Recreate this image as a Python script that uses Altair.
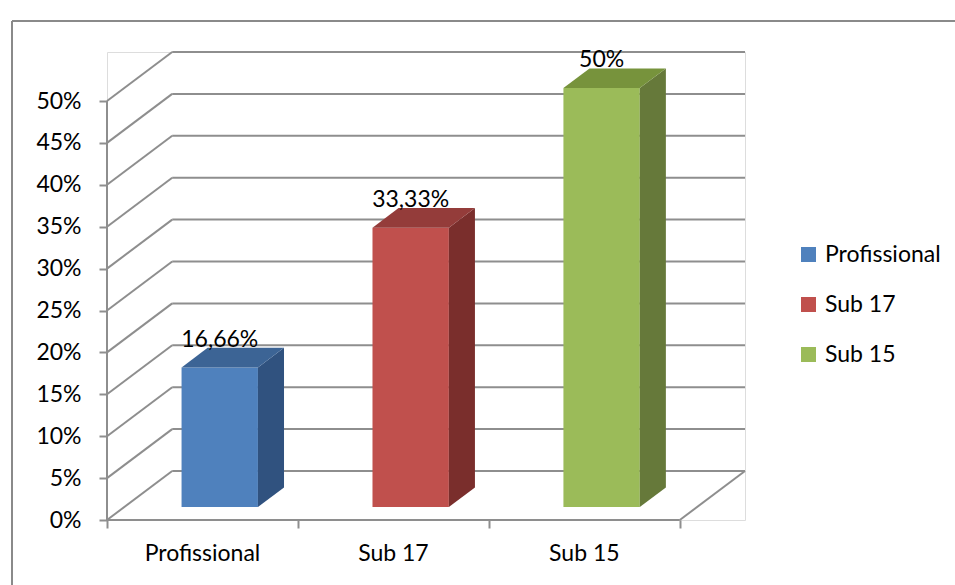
import altair as alt
import pandas as pd

# Chart data
categorias = ["Profissional", "Sub 17", "Sub 15"]
valores = [16.66, 33.33, 50.0]
rotulos = ["16,66%", "33,33%", "50%"]
ticks_y = [0, 5, 10, 15, 20, 25, 30, 35, 40, 45, 50]

cor_frente = ["#4F81BD", "#C0504D", "#9BBB59"]
cor_topo = ["#3C6495", "#943C3A", "#77933C"]
cor_lado = ["#30527F", "#7A2E2C", "#66793A"]

# Oblique projection of the depth axis (depth 0..1 -> offset in x slots / y percent)
DX = 0.3415
DY = 5.85
HALF = 0.2          # half bar width, in category slots
D0, D1 = 0.265, 0.665  # bar depth span
N = len(categorias)

FONT = "Lato"
FS = 23
GRID = "#8E8E8E"

W, H = 638, 468


def X(field):
    return alt.X(field, type="quantitative",
                 scale=alt.Scale(domain=[0, N + DX], nice=False, zero=False),
                 axis=alt.Axis(values=list(range(N + 1)), labels=False, title=None,
                               domain=False, grid=False, tickSize=8, tickWidth=2,
                               tickColor=GRID))


def Y(field):
    return alt.Y(field, type="quantitative",
                 scale=alt.Scale(domain=[0, 50 + DY], nice=False, zero=False),
                 axis=alt.Axis(values=ticks_y, title=None, domain=False, grid=False,
                               tickSize=8, tickWidth=2, tickColor=GRID,
                               labelExpr="datum.value + '%'", labelFont=FONT,
                               labelFontSize=FS, labelColor="#000000",
                               labelPadding=18))


# Walls and floor lines
linhas = []
for v in ticks_y:
    linhas.append(dict(x=DX, y=v + DY, x2=N + DX, y2=v + DY))   # back wall
    linhas.append(dict(x=0, y=v, x2=DX, y2=v + DY))             # side wall
linhas.append(dict(x=0, y=0, x2=N, y2=0))                       # floor front edge
linhas.append(dict(x=N, y=0, x2=N + DX, y2=DY))                 # floor right edge
linhas.append(dict(x=0, y=0, x2=0, y2=50))                      # front value axis
df_linhas = pd.DataFrame(linhas)

# Bar faces
frente, lado, topo, textos, cats = [], [], [], [], []
for i, (c, v, r) in enumerate(zip(categorias, valores, rotulos)):
    xl = i + 0.5 - HALF
    xr = i + 0.5 + HALF
    frente.append(dict(categoria=c, x=xl + D0 * DX, x2=xr + D0 * DX,
                       y=D0 * DY, y2=v + D0 * DY))
    for d in (D0, D1):
        lado.append(dict(categoria=c, cor=cor_lado[i], x=xr + d * DX,
                         y=d * DY, y2=v + d * DY))
        topo.append(dict(categoria=c, cor=cor_topo[i], y=v + d * DY,
                         x=xl + d * DX, x2=xr + d * DX))
    textos.append(dict(rotulo=r, x=i + 0.5 + D0 * DX, y=v + D1 * DY))
    cats.append(dict(categoria=c, x=i + 0.5, y=0))

df_frente = pd.DataFrame(frente)
df_lado = pd.DataFrame(lado)
df_topo = pd.DataFrame(topo)
df_textos = pd.DataFrame(textos)
df_cats = pd.DataFrame(cats)

grade = alt.Chart(df_linhas).mark_rule(color=GRID, strokeWidth=2).encode(
    x=X("x"), y=Y("y"), x2="x2", y2="y2")

face_frente = alt.Chart(df_frente).mark_rect().encode(
    x=X("x"), x2="x2", y=Y("y"), y2="y2",
    color=alt.Color("categoria:N",
                    scale=alt.Scale(domain=categorias, range=cor_frente),
                    legend=alt.Legend(title=None, orient="none", legendX=690,
                                      legendY=191, symbolType="square",
                                      symbolSize=225, symbolStrokeWidth=0,
                                      labelFont=FONT, labelFontSize=FS,
                                      labelColor="#000000", labelOffset=5,
                                      rowPadding=26)))

face_lado = alt.Chart(df_lado).mark_area(orient="vertical", opacity=1).encode(
    x=X("x"), y=Y("y"), y2="y2", detail="categoria:N",
    color=alt.Color("cor:N", scale=None))

face_topo = alt.Chart(df_topo).mark_area(orient="horizontal", opacity=1).encode(
    y=Y("y"), x=X("x"), x2="x2", detail="categoria:N",
    color=alt.Color("cor:N", scale=None))

valores_txt = alt.Chart(df_textos).mark_text(
    font=FONT, fontSize=FS, color="#000000", baseline="alphabetic", dy=-1
).encode(x=X("x"), y=Y("y"), text="rotulo:N")

cat_txt = alt.Chart(df_cats).mark_text(
    font=FONT, fontSize=FS, color="#000000", baseline="middle", dy=34
).encode(x=X("x"), y=Y("y"), text="categoria:N")

# Outer frame (left and top edges)
moldura_esq = alt.Chart(df_cats).mark_rule(color="#888888", strokeWidth=1.5).encode(
    x=alt.value(-95), y=alt.value(-31), y2=alt.value(H + 80))
moldura_topo = alt.Chart(df_cats).mark_rule(color="#888888", strokeWidth=1.5).encode(
    x=alt.value(-95), x2=alt.value(W + 210), y=alt.value(-31))

chart = alt.layer(
    moldura_esq, moldura_topo, grade, face_frente, face_lado, face_topo,
    valores_txt, cat_txt
).resolve_scale(color="independent").properties(
    width=W, height=H,
    autosize=alt.AutoSizeParams(type="none"),
    padding={"left": 107, "top": 52, "right": 210, "bottom": 65},
).configure_view(stroke=None).configure(background="#FFFFFF")

chart.save("out.html", embed_options={"renderer": "svg", "actions": False})
